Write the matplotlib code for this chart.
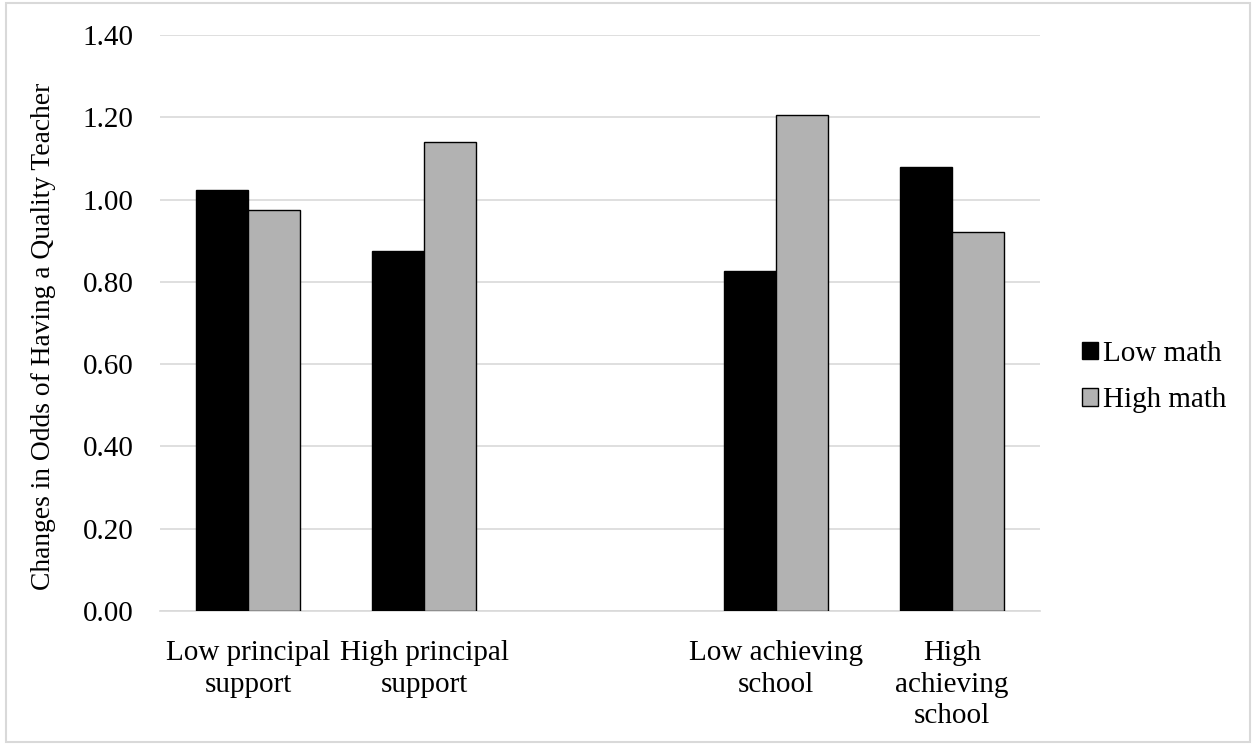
import numpy as np
import matplotlib.pyplot as plt
from matplotlib.patches import Rectangle

plt.rcParams['font.family'] = ['Liberation Serif', 'DejaVu Serif']

# dados
categorias = ['Low principal\nsupport', 'High principal\nsupport', '',
              'Low achieving\nschool', 'High\nachieving\nschool']
low_math = [1.023, 0.874, np.nan, 0.826, 1.080]
high_math = [0.975, 1.141, np.nan, 1.206, 0.921]
yticks = [0.0, 0.2, 0.4, 0.6, 0.8, 1.0, 1.2, 1.4]

fig = plt.figure(figsize=(12.53, 7.46), dpi=100)
ax = fig.add_axes([0.1277, 0.181, 0.7023, 0.772])

x = np.arange(len(categorias))
largura = 0.295
ax.bar(x - largura / 2, low_math, width=largura, color='black',
       edgecolor='black', linewidth=1, label='Low math', zorder=3)
ax.bar(x + largura / 2, high_math, width=largura, color='#b2b2b2',
       edgecolor='black', linewidth=1, label='High math', zorder=3)

ax.set_xlim(-0.5, len(categorias) - 0.5)
ax.set_ylim(0, 1.4)
ax.set_yticks(yticks)
ax.set_yticklabels([f'{v:.2f}' for v in yticks], fontsize=21)
ax.set_xticks(x)
ax.set_xticklabels(categorias, fontsize=21, va='top', linespacing=1.27)
ax.tick_params(axis='y', length=0, pad=19)
ax.tick_params(axis='x', length=0, pad=21)
ax.grid(axis='y', color='#d9d9d9', linewidth=1.2, zorder=0)
for lado in ['top', 'right', 'left']:
    ax.spines[lado].set_visible(False)
ax.spines['bottom'].set_color('#d9d9d9')
ax.spines['bottom'].set_linewidth(1.2)

ax.set_ylabel('Changes in Odds of Having a Quality Teacher', fontsize=19.8)
ax.yaxis.set_label_coords(-0.118, 0.476)

ax.legend(loc='center left', bbox_to_anchor=(1.034, 0.406), frameon=False,
          borderaxespad=0, fontsize=21, handlelength=0.55, handleheight=0.55,
          handletextpad=0.17, labelspacing=0.7)

# moldura externa
fig.patches.append(Rectangle((0.005, 0.006), 0.993, 0.99, transform=fig.transFigure,
                             fill=False, edgecolor='#d9d9d9', linewidth=1.5))

fig.savefig('out.png', dpi=100)
plt.close(fig)
